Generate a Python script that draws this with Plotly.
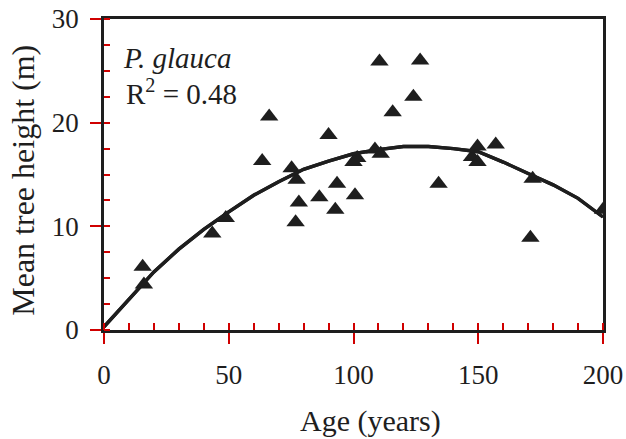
import plotly.graph_objects as go

# Observed data (age in years, mean tree height in m)
age = [15.5, 16, 43.4, 48.8, 63.4, 66.2, 75.2, 77.2, 78.1, 76.8, 86.3, 90.0, 93.4, 92.7,
       100.6, 100.0, 101.5, 108.6, 110.9, 110.4, 115.7, 124.0, 126.7, 134.1, 147.5,
       149.7, 149.7, 157.0, 171.8, 170.9, 200.0]
height = [6.1, 4.4, 9.3, 10.8, 16.3, 20.6, 15.6, 14.5, 12.3, 10.4, 12.8, 18.8, 14.1, 11.6,
          13.0, 16.2, 16.6, 17.4, 17.0, 25.9, 21.0, 22.5, 26.0, 14.1, 16.7,
          17.7, 16.2, 17.9, 14.6, 8.9, 11.6]

# Fitted curve
fit_age = [0, 10, 20, 30, 40, 50, 60, 70, 80, 90, 100, 110, 120, 130, 140, 150, 160, 170, 180, 190, 200]
fit_height = [0.3, 3.0, 5.6, 7.8, 9.7, 11.4, 13.0, 14.3, 15.5, 16.3, 17.0, 17.4, 17.7, 17.7,
              17.5, 17.2, 16.2, 15.1, 14.0, 12.7, 10.9]

x_ticks = [0, 50, 100, 150, 200]
y_ticks = [0, 10, 20, 30]

FONT = "Liberation Serif"
INK = "#1e1e1e"
TICK = "#d00000"  # diagnostic colour to check the ticks are drawn

fig = go.Figure()
fig.add_trace(go.Scatter(x=fit_age, y=fit_height, mode="lines",
                         line=dict(color=INK, width=3.4), hoverinfo="skip", showlegend=False))
fig.add_trace(go.Scatter(x=age, y=height, mode="markers",
                         marker=dict(symbol="triangle-up", size=16, color=INK,
                                     line=dict(width=0)), showlegend=False))
fig.add_trace(go.Scatter(x=fit_age, y=fit_height, mode="lines", xaxis="x2", yaxis="y2",
                         line=dict(color=INK, width=3.4), hoverinfo="skip", showlegend=False))

fig.update_layout(
    width=626, height=439,
    margin=dict(l=104, r=23, t=19, b=109, autoexpand=False),
    paper_bgcolor="white", plot_bgcolor="white",
    showlegend=False,
    font=dict(family=FONT, color=INK, size=27),
    xaxis=dict(range=[0, 200], tickvals=x_ticks, ticks="outside", ticklen=11,
               tickcolor=TICK, tickwidth=2.2, showgrid=False, zeroline=False,
               showline=True, linewidth=2.6, linecolor=INK, mirror=True,
               tickfont=dict(family=FONT, size=27, color=INK), ticklabelstandoff=8,
               minor=dict(dtick=10, ticks="inside", ticklen=7, tickwidth=2.2,
                          tickcolor=TICK, showgrid=False)),
    yaxis=dict(range=[0, 30], tickvals=y_ticks, ticks="outside", ticklen=11,
               tickcolor=TICK, tickwidth=2.2, showgrid=False, zeroline=False,
               showline=True, linewidth=2.6, linecolor=INK, mirror=True,
               tickfont=dict(family=FONT, size=27, color=INK), ticklabelstandoff=6,
               minor=dict(dtick=2.5, ticks="inside", ticklen=6, tickwidth=2.2,
                          tickcolor=TICK, showgrid=False)),
    xaxis2=dict(overlaying="x", range=[0, 200], tickvals=x_ticks, ticks="inside", ticklen=7,
                tickcolor=TICK, tickwidth=2.2, showgrid=False, zeroline=False,
                showticklabels=False, showline=False, anchor="y2"),
    yaxis2=dict(overlaying="y", range=[0, 30], tickvals=y_ticks, ticks="inside", ticklen=6,
                tickcolor=TICK, tickwidth=2.2, showgrid=False, zeroline=False,
                showticklabels=False, showline=False, anchor="x2"),
    annotations=[
        dict(text="Age (years)", x=0.535, y=-0.293, xref="paper", yref="paper",
             xanchor="center", yanchor="middle", showarrow=False,
             font=dict(family=FONT, size=30, color=INK)),
        dict(text="Mean tree height (m)", x=-0.163, y=0.482, xref="paper", yref="paper",
             xanchor="center", yanchor="middle", showarrow=False, textangle=-90,
             font=dict(family=FONT, size=32, color=INK)),
        dict(text="<i>P. glauca</i>", x=0.035, y=0.875, xref="paper", yref="paper",
             xanchor="left", yanchor="middle", showarrow=False,
             font=dict(family=FONT, size=29, color=INK)),
        dict(text="R<sup>2</sup> = 0.48", x=0.041, y=0.765, xref="paper", yref="paper",
             xanchor="left", yanchor="middle", showarrow=False,
             font=dict(family=FONT, size=29, color=INK)),
    ],
)

fig.write_html("out.html")
